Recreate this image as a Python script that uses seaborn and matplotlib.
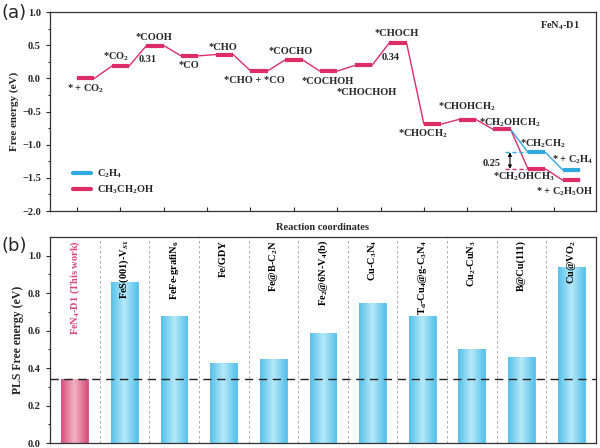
import numpy as np
import matplotlib
matplotlib.use('Agg')
import matplotlib.pyplot as plt
from matplotlib.lines import Line2D
import pandas as pd
import seaborn as sns

sns.set_style('ticks')
plt.rcParams['font.family'] = ['Liberation Serif', 'DejaVu Serif']
plt.rcParams['font.weight'] = 'bold'
plt.rcParams['axes.labelweight'] = 'bold'
plt.rcParams['mathtext.fontset'] = 'custom'
plt.rcParams['mathtext.rm'] = 'Liberation Serif:bold'
plt.rcParams['mathtext.it'] = 'Liberation Serif:bold:italic'
plt.rcParams['mathtext.bf'] = 'Liberation Serif:bold'

# ---- data: free energy diagram (eV) ----
common_states = ['* + CO$_2$', '*CO$_2$', '*COOH', '*CO', '*CHO', '*CHO + *CO', '*COCHO',
                 '*COCHOH', '*CHOCHOH', '*CHOCH', '*CHOCH$_2$', '*CHOHCH$_2$', '*CH$_2$OHCH$_2$']
common_energy = [0.0, 0.185, 0.495, 0.34, 0.36, 0.115, 0.28, 0.11, 0.195, 0.535, -0.69, -0.62, -0.77]
c2h4_states = ['*CH$_2$CH$_2$', '* + C$_2$H$_4$']
c2h4_energy = [-1.115, -1.38]
etoh_states = ['*CH$_2$OHCH$_3$', '* + C$_2$H$_5$OH']
etoh_energy = [-1.365, -1.535]

# ---- data: PLS free energy comparison (eV) ----
catalysts = ['FeN$_4$-D1 (This work)', 'FeS(001)-V$_{S1}$', 'FeFe-grafiN$_6$', 'Fe/GDY',
             'Fe@B-C$_2$N', 'Fe$_2$@6N-V$_4$(b)', 'Cu-C$_3$N$_4$',
             'T$_\\mathrm{d}$-Cu$_4$@g-C$_3$N$_4$', 'Cu$_2$-CuN$_3$', 'B@Cu(111)', 'Cu@VO$_2$']
pls_energy = [0.34, 0.86, 0.68, 0.43, 0.45, 0.59, 0.75, 0.68, 0.50, 0.46, 0.94]

PINK = '#dc2d67'
BLUE = '#2fa9de'

fig = plt.figure(figsize=(6, 4.48), dpi=100)
ax1 = fig.add_axes([0.0833, 0.529, 0.91, 0.444])
ax2 = fig.add_axes([0.0833, 0.011, 0.91, 0.460])


def path_points(start, energies):
    xs, ys = [], []
    for k, e in enumerate(energies):
        xs += [start + k, start + k + 0.5]
        ys += [e, e]
    return xs, ys


n_c = len(common_energy)
xe, ye = path_points(0, common_energy + etoh_energy)
xb, yb = path_points(n_c - 1, [common_energy[-1]] + c2h4_energy)
df_path = pd.DataFrame({
    'x': xe + xb,
    'y': ye + yb,
    'path': ['CH3CH2OH'] * len(xe) + ['C2H4'] * len(xb),
})
sns.lineplot(data=df_path, x='x', y='y', hue='path', palette={'CH3CH2OH': PINK, 'C2H4': BLUE},
             sort=False, estimator=None, lw=1.0, legend=False, ax=ax1)

# thick energy levels
for xs, ys, c in [(xe, ye, PINK), (xb[2:], yb[2:], BLUE)]:
    ax1.hlines(ys[::2], xs[::2], xs[1::2], color=c, lw=3)

# state labels (x, y) in data coords
label_pos = [(0.26, -0.15), (1.12, 0.32), (2.22, 0.62), (3.23, 0.20), (4.21, 0.47),
             (5.1, -0.03), (6.17, 0.41), (7.22, -0.04), (8.34, -0.21), (9.22, 0.68),
             (9.96, -0.83), (11.25, -0.43), (12.49, -0.67)]
for s, (x, y) in zip(common_states, label_pos):
    ax1.text(x, y, s, ha='center', va='center', fontsize=7.5)
for s, (x, y) in zip(c2h4_states, [(13.44, -0.98), (14.28, -1.23)]):
    ax1.text(x, y, s, ha='center', va='center', fontsize=7.5)
for s, (x, y) in zip(etoh_states, [(12.87, -1.49), (14.05, -1.71)]):
    ax1.text(x, y, s, ha='center', va='center', fontsize=7.5)

ax1.text(2.03, 0.29, '0.31', ha='center', va='center', fontsize=7.5)
ax1.text(9.05, 0.32, '0.34', ha='center', va='center', fontsize=7.5)
ax1.text(13.92, 0.80, 'FeN$_4$-D1', ha='center', va='center', fontsize=7.5)

# 0.25 gap marker
ax1.hlines(c2h4_energy[0], 12.33, 12.97, color=BLUE, lw=1, linestyles=(0, (3, 2)))
ax1.hlines(etoh_energy[0], 12.33, 12.97, color=PINK, lw=1, linestyles=(0, (3, 2)))
ax1.annotate('', xy=(12.48, c2h4_energy[0]), xytext=(12.48, etoh_energy[0]),
             arrowprops=dict(arrowstyle='<|-|>', lw=0.8, color='black', mutation_scale=5,
                             shrinkA=0, shrinkB=0))
ax1.text(11.96, -1.28, '0.25', ha='center', va='center', fontsize=7.5)

ax1.set_xlim(-0.78, 14.96)
ax1.set_ylim(-2.0, 1.0)
ax1.set_xticks(np.arange(12) * 1.25)
ax1.set_xticklabels([])
ax1.set_yticks(np.arange(-2.0, 1.01, 0.5))
ax1.set_yticks(np.arange(-2.0, 1.01, 0.25), minor=True)
ax1.tick_params(axis='x', direction='in', length=3, width=0.8)
ax1.tick_params(axis='y', which='both', direction='out', width=0.8, labelsize=7.5)
ax1.tick_params(axis='y', which='major', length=3)
ax1.tick_params(axis='y', which='minor', length=1.5)
ax1.set_xlabel('Reaction coordinates', fontsize=7.5, labelpad=5)
ax1.set_ylabel('Free energy (eV)', fontsize=8, labelpad=2)
ax1.legend(handles=[Line2D([], [], color=BLUE, lw=3), Line2D([], [], color=PINK, lw=3)],
           labels=['C$_2$H$_4$', 'CH$_3$CH$_2$OH'], loc='lower left', bbox_to_anchor=(0.025, 0.03),
           frameon=False, fontsize=7.5, handlelength=1.7, handletextpad=0.6, labelspacing=0.3)

# ---- panel (b) ----
df_bar = pd.DataFrame({'catalyst': catalysts, 'energy': pls_energy})
bar_colors = ['#e07893'] + ['#7fd3f2'] * (len(catalysts) - 1)
sns.barplot(data=df_bar, x='catalyst', y='energy', hue='catalyst', palette=bar_colors,
            legend=False, width=0.54, ax=ax2, zorder=2)

# gradient fill inside each bar
grad = np.abs(np.linspace(-1, 1, 64))[None, :]
for k, p in enumerate(ax2.patches):
    edge, mid = (('#d4507a', '#f3b1c2') if k == 0 else ('#56c1ea', '#b4e8f8'))
    cmap = matplotlib.colors.LinearSegmentedColormap.from_list('g', [mid, edge])
    x0, y0 = p.get_x(), p.get_y()
    im = ax2.imshow(grad, extent=(x0, x0 + p.get_width(), y0, y0 + p.get_height()),
                    cmap=cmap, aspect='auto', zorder=2.1)
    im.set_clip_path(p)
    p.set_edgecolor(edge)
    p.set_linewidth(0.6)

for k in range(len(catalysts) - 1):
    ax2.axvline(k + 0.5, color='#a0a0a0', lw=0.6, ls=(0, (3, 3)), zorder=1)
ax2.axhline(pls_energy[0], color='#222222', lw=1.0, ls=(0, (6, 4)), zorder=3)

for k, name in enumerate(catalysts):
    ax2.text(k, 1.084, name, rotation=90, ha='center', va='top', fontsize=7.5,
             color='#d8457a' if k == 0 else 'black', zorder=4)

ax2.set_xlim(-0.5, len(catalysts) - 0.5)
ax2.set_ylim(0, 1.1)
ax2.set_xticks(range(len(catalysts)))
ax2.set_xticklabels([])
ax2.set_xlabel('')
ax2.set_yticks(np.arange(0, 1.01, 0.2))
ax2.set_yticks(np.arange(0, 1.01, 0.1), minor=True)
ax2.tick_params(axis='x', direction='in', length=3, width=0.8)
ax2.tick_params(axis='y', which='both', direction='out', width=0.8, labelsize=7.5)
ax2.tick_params(axis='y', which='major', length=3)
ax2.tick_params(axis='y', which='minor', length=1.5)
ax2.set_ylabel('PLS Free energy (eV)', fontsize=8.5, labelpad=3)

for a in (ax1, ax2):
    for sp in a.spines.values():
        sp.set_visible(True)
        sp.set_linewidth(0.9)
        sp.set_color('#333333')

fig.text(0.002, 0.972, '(a)', fontsize=13, family='DejaVu Sans', weight='normal', va='center')
fig.text(0.002, 0.452, '(b)', fontsize=13, family='DejaVu Sans', weight='normal', va='center')

fig.savefig('out.png', dpi=100)
